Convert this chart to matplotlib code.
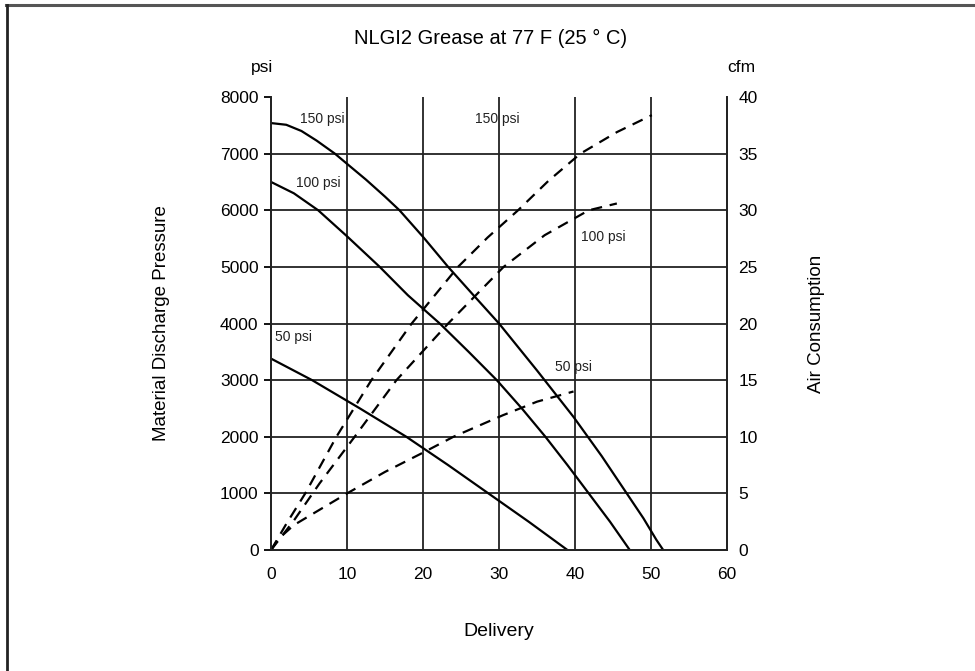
import matplotlib.pyplot as plt
from matplotlib.lines import Line2D

plt.rcParams['font.family'] = ['Liberation Sans', 'DejaVu Sans']

# Material discharge pressure (psi) vs delivery, solid curves
x_p150 = [0, 2, 4, 6, 8.4, 10, 12.5, 15, 16.9, 20, 23.3, 26.5, 30, 35, 39.8, 43.5, 46.8, 49, 50.7, 51.6]
p150 = [7540, 7510, 7400, 7230, 7000, 6820, 6540, 6240, 6000, 5530, 5000, 4520, 4000, 3170, 2350, 1660, 1000, 560, 180, 0]
x_p100 = [0, 3, 6.2, 10, 14.3, 18, 22.2, 26, 29.7, 33, 36.1, 39, 41.8, 44.6, 47.2]
p100 = [6500, 6300, 6000, 5540, 5000, 4500, 4000, 3500, 3000, 2500, 2000, 1500, 1000, 500, 0]
x_p50 = [0, 5.4, 11.7, 17.8, 23.3, 28.6, 33.9, 39]
p50 = [3380, 3000, 2500, 2000, 1500, 1000, 500, 0]

# Air consumption (cfm) vs delivery, dashed curves
x_a150 = [0, 2, 4.5, 8.6, 13.2, 18.5, 24.6, 28.5, 32.5, 36.5, 40.7, 45.5, 50.1]
a150 = [0, 2.3, 5, 10, 15, 20, 25, 27.6, 30, 32.6, 35, 36.9, 38.4]
x_a100 = [0, 3, 6.4, 11, 16.5, 23.3, 30.6, 36, 41.8, 45.5]
a100 = [0, 2.6, 5.9, 10, 15, 20, 25, 27.8, 30, 30.6]
x_a50 = [0, 1, 3, 6, 10, 15, 20, 24, 30.5, 35, 39.8]
a50 = [0, 1.0, 2.2, 3.4, 5, 6.9, 8.6, 10, 11.9, 13.1, 14.0]

x_ticks = [0, 10, 20, 30, 40, 50, 60]
p_ticks = [0, 1000, 2000, 3000, 4000, 5000, 6000, 7000, 8000]
cfm_ticks = [0, 5, 10, 15, 20, 25, 30, 35, 40]

fig = plt.figure(figsize=(9.75, 6.71), dpi=100)
ax = fig.add_axes([0.278, 0.1803, 0.4677, 0.6751])
ax2 = ax.twinx()

lw = 1.6
ax.plot(x_p150, p150, color='black', lw=lw, solid_joinstyle='round')
ax.plot(x_p100, p100, color='black', lw=lw, solid_joinstyle='round')
ax.plot(x_p50, p50, color='black', lw=lw, solid_joinstyle='round')

dash = (0, (5, 3.5))
ax2.plot(x_a150, a150, color='black', lw=lw, linestyle=dash)
ax2.plot(x_a100, a100, color='black', lw=lw, linestyle=dash)
ax2.plot(x_a50, a50, color='black', lw=lw, linestyle=dash)

# grid
for v in x_ticks[1:-1]:
    ax.axvline(v, color='#222222', lw=1.3, zorder=0)
for h in p_ticks[1:-1]:
    ax.axhline(h, color='#222222', lw=1.3, zorder=0)

ax.set_xlim(0, 60)
ax.set_ylim(0, 8000)
ax2.set_ylim(0, 40)
ax.set_xticks(x_ticks)
ax.set_yticks(p_ticks)
ax2.set_yticks(cfm_ticks)

for a in (ax, ax2):
    a.spines['top'].set_visible(False)
    for s in ('left', 'right', 'bottom'):
        a.spines[s].set_linewidth(1.3)
        a.spines[s].set_color('#222222')

ax.tick_params(axis='x', length=0, pad=12, labelsize=12.5)
ax.tick_params(axis='y', length=5, width=1.3, pad=4, labelsize=12.5)
ax2.tick_params(axis='y', length=0, pad=8, labelsize=12.5)

ax.set_xlabel('Delivery', fontsize=14, labelpad=30)
ax.set_ylabel('Material Discharge Pressure', fontsize=13.5, labelpad=36)
ax2.set_ylabel('Air Consumption', fontsize=13.5, labelpad=36)

fig.text(0.503, 0.943, 'NLGI2 Grease at 77 F (25 \u00b0 C)', ha='center', va='center', fontsize=14.5)
fig.text(0.269, 0.899, 'psi', ha='center', va='center', fontsize=12.5)
fig.text(0.760, 0.899, 'cfm', ha='center', va='center', fontsize=12.5)

# curve labels
lab = dict(fontsize=10, ha='left', va='center', color='#222222')
ax.text(3.8, 7610, '150 psi', **lab)
ax.text(26.8, 7620, '150 psi', **lab)
ax.text(3.3, 6490, '100 psi', **lab)
ax.text(40.8, 5520, '100 psi', **lab)
ax.text(0.5, 3770, '50 psi', **lab)
ax.text(37.4, 3240, '50 psi', **lab)

# outer frame (top and left edges)
fig.add_artist(Line2D([6 / 975, 1.0], [1 - 4.5 / 671, 1 - 4.5 / 671], color='#555555', lw=2.2))
fig.add_artist(Line2D([6.5 / 975, 6.5 / 975], [0, 1 - 4.5 / 671], color='#222222', lw=2.0))

fig.savefig('out.png', dpi=100)
